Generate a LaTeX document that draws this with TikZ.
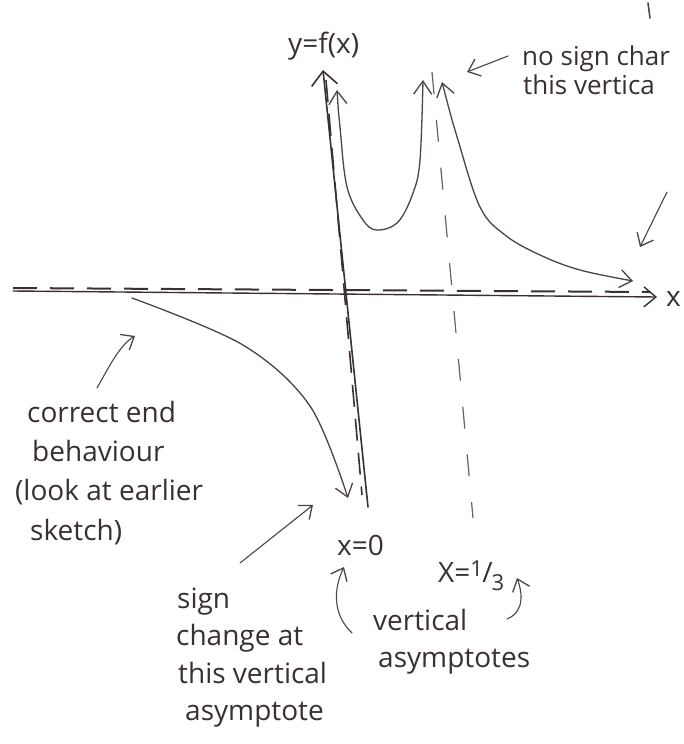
\documentclass[tikz,border=0pt]{standalone}
\usepackage{fontspec}
\setmainfont{Open Sans}
\usetikzlibrary{arrows.meta}
\definecolor{ink}{HTML}{3A3030}
\definecolor{pencil}{HTML}{4E4444}
\tikzset{
  hand/.style={font=\fontsize{28}{32}\selectfont, text=ink, inner sep=0pt, anchor=base west},
  barb/.style={-{Straight Barb[length=11pt,width=18pt,line width=1.3pt]}},
  curve/.style={draw=pencil, line width=1.3pt, line cap=round, line join=round},
  axisline/.style={draw=ink, line width=1.4pt, line cap=round},
  asym/.style={draw=ink, line width=2pt, dash pattern=on 24pt off 13pt},
  asymthin/.style={draw=pencil!85, line width=1.2pt, dash pattern=on 22pt off 26pt},
  note/.style={draw=pencil, line width=1.1pt, line cap=round}
}
\begin{document}
\begin{tikzpicture}[x=1pt,y=-1pt]
\useasboundingbox[fill=white] (0,0) rectangle (683,744);

% named coordinates
\coordinate (xl) at (13,291);
\coordinate (xr) at (657,297);
\coordinate (yb) at (368,507);
\coordinate (yt) at (323,70);

% asymptotes
\draw[asym] (13,288) -- (650,292);
\draw[asym, line width=1.6pt, dash pattern=on 22pt off 12pt] (326,80) -- (362,495);
\draw[asymthin] (432,72) -- (473,518);

% axes
\draw[axisline, -{Straight Barb[length=12pt,width=20pt,line width=1.4pt]}] (xl) -- (xr);
\draw[axisline, line width=1.6pt, -{Straight Barb[length=14pt,width=26pt,line width=1.6pt]}] (yb) -- (yt);

% branch between asymptotes
\draw[curve, {Straight Barb[length=13pt,width=18pt,line width=1.3pt]}-{Straight Barb[length=13pt,width=18pt,line width=1.3pt]}]
  plot[smooth, tension=0.6] coordinates {(337,90) (340,127) (347,187) (363,220) (377,230) (398,222) (413,193) (420,160) (423,80)};
% right branch
\draw[curve, {Straight Barb[length=13pt,width=18pt,line width=1.3pt]}-{Straight Barb[length=12pt,width=18pt,line width=1.3pt]}]
  plot[smooth, tension=0.6] coordinates {(442,82) (458,140) (480,207) (505,235) (540,255) (580,270) (633,281)};
% left branch
\draw[curve, -{Straight Barb[length=12pt,width=18pt,line width=1.3pt]}]
  plot[smooth, tension=0.55] coordinates {(132,298) (243,345) (310,406) (348,498)};

% labels
\node[hand] (yf) at (288,53) {y=f(x)};
\node[hand] (xlab) at (666,306) {x};
\node[hand, font=\fontsize{26}{30}\selectfont] (ns1) at (522,65) {no sign char};
\node[hand, font=\fontsize{26}{30}\selectfont] (ns2) at (523,94) {this vertica};

\node[hand] (ce1) at (27,422) {correct end};
\node[hand] (ce2) at (32,461) {behaviour};
\node[hand] (ce3) at (15,500) {(look at earlier};
\node[hand] (ce4) at (30,540) {sketch)};

\node[hand] (sc1) at (177,608) {sign};
\node[hand] (sc2) at (176,645) {change at};
\node[hand] (sc3) at (178,683) {this vertical};
\node[hand] (sc4) at (185,720) {asymptote};

\node[hand] (x0) at (337,555) {x=0};
\node[hand] (x13) at (438,582) {X=\raisebox{0.35ex}{\fontsize{22}{22}\selectfont 1}\kern-0.5pt/\kern-1pt\raisebox{-0.6ex}{\fontsize{22}{22}\selectfont 3}};
\node[hand] (va1) at (373,630) {vertical};
\node[hand] (va2) at (378,667) {asymptotes};

% annotation arrows
\coordinate (a1s) at (97,388);  \coordinate (a1e) at (135,336);
\draw[note, barb] (a1s) .. controls (110,365) and (120,345) .. (a1e);
\coordinate (a2s) at (240,563); \coordinate (a2e) at (313,505);
\draw[note, barb] (a2s) -- (a2e);
\coordinate (a3s) at (352,633); \coordinate (a3e) at (344,567);
\draw[note, barb] (a3s) .. controls (333,615) and (333,590) .. (a3e);
\coordinate (a4s) at (507,619); \coordinate (a4e) at (517,578);
\draw[note, barb] (a4s) .. controls (520,614) and (525,600) .. (a4e);
\coordinate (a5s) at (508,56); \coordinate (a5e) at (467,72);
\draw[note, barb] (a5s) -- (a5e);
\coordinate (a6s) at (667,192); \coordinate (a6e) at (640,247);
\draw[note, barb] (a6s) -- (a6e);
\coordinate (t1) at (648,3); \coordinate (t2) at (650,18);
\draw[note, line width=1.6pt] (t1) -- (t2);
\end{tikzpicture}
\end{document}
